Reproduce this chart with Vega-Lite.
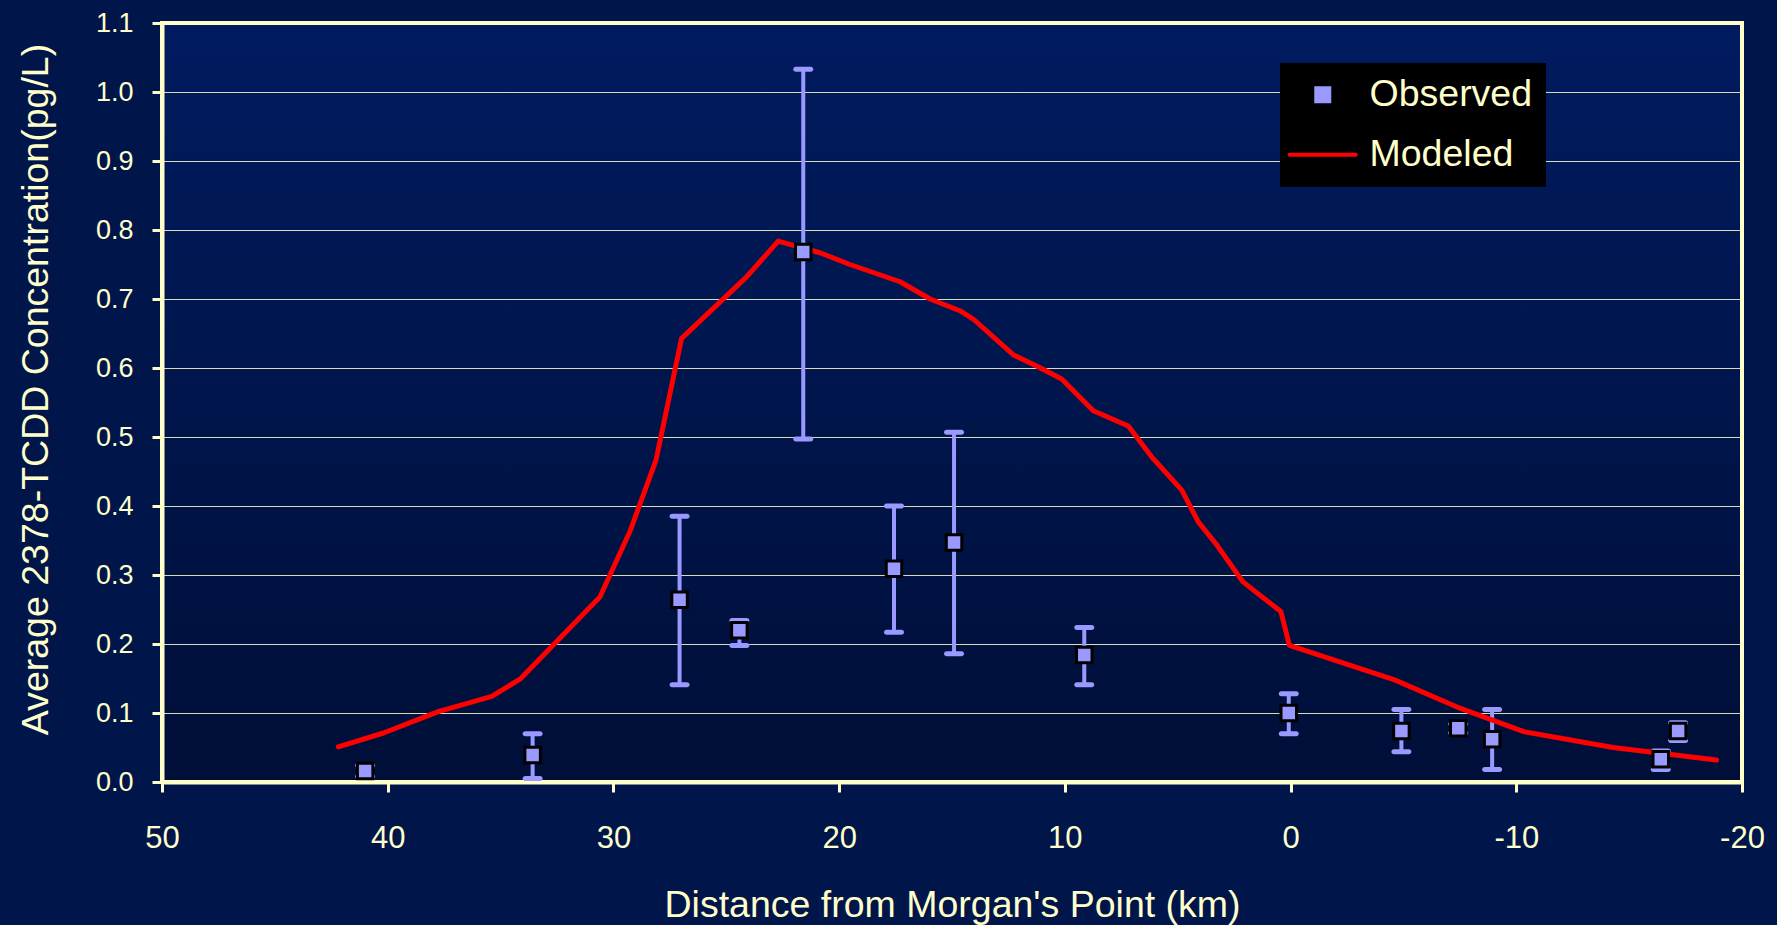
{
  "$schema": "https://vega.github.io/schema/vega-lite/v6.json",
  "width": 1580,
  "height": 759,
  "autosize": {"type": "none"},
  "padding": {"left": 162, "top": 23, "right": 35, "bottom": 143},
  "background": "#00154a",
  "config": {
    "font": "Liberation Sans, Arial, sans-serif",
    "view": {
      "stroke": "#ffffcc",
      "strokeWidth": 4,
      "fill": {"gradient": "linear", "x1": 0, "y1": 0, "x2": 0, "y2": 1,
        "stops": [{"offset": 0, "color": "#001b5f"}, {"offset": 1, "color": "#000f38"}]}
    },
    "axis": {
      "domainColor": "#ffffcc",
      "domainWidth": 4,
      "tickColor": "#ffffcc",
      "tickWidth": 3,
      "tickSize": 10,
      "labelColor": "#ffffcc",
      "titleColor": "#ffffcc",
      "titleFontWeight": "normal",
      "titleFontSize": 37.5,
      "labelFlush": false,
      "labelOverlap": false,
      "gridColor": "#ffffcc",
      "gridWidth": 1,
      "gridOpacity": 0.85
    }
  },
  "datasets": {
    "observed": [
      {"d": 41.0, "c": 0.016, "lo": 0.008, "hi": 0.024, "series": "Observed"},
      {"d": 33.58, "c": 0.039, "lo": 0.005, "hi": 0.070, "series": "Observed"},
      {"d": 27.07, "c": 0.264, "lo": 0.141, "hi": 0.385, "series": "Observed"},
      {"d": 24.42, "c": 0.220, "lo": 0.198, "hi": 0.234, "series": "Observed"},
      {"d": 21.59, "c": 0.768, "lo": 0.497, "hi": 1.033, "series": "Observed"},
      {"d": 17.57, "c": 0.309, "lo": 0.217, "hi": 0.400, "series": "Observed"},
      {"d": 14.91, "c": 0.347, "lo": 0.186, "hi": 0.507, "series": "Observed"},
      {"d": 9.14, "c": 0.184, "lo": 0.141, "hi": 0.224, "series": "Observed"},
      {"d": 0.08, "c": 0.100, "lo": 0.070, "hi": 0.128, "series": "Observed"},
      {"d": -4.91, "c": 0.074, "lo": 0.044, "hi": 0.105, "series": "Observed"},
      {"d": -7.43, "c": 0.078, "lo": 0.071, "hi": 0.084, "series": "Observed"},
      {"d": -8.93, "c": 0.062, "lo": 0.018, "hi": 0.105, "series": "Observed"},
      {"d": -16.40, "c": 0.033, "lo": 0.018, "hi": 0.045, "series": "Observed"},
      {"d": -17.17, "c": 0.074, "lo": 0.060, "hi": 0.086, "series": "Observed"}
    ],
    "modeled": [
      {"d": 42.19, "c": 0.051, "series": "Modeled"},
      {"d": 40.19, "c": 0.071, "series": "Modeled"},
      {"d": 37.76, "c": 0.102, "series": "Modeled"},
      {"d": 35.39, "c": 0.124, "series": "Modeled"},
      {"d": 34.14, "c": 0.149, "series": "Modeled"},
      {"d": 30.60, "c": 0.268, "series": "Modeled"},
      {"d": 29.27, "c": 0.363, "series": "Modeled"},
      {"d": 28.11, "c": 0.467, "series": "Modeled"},
      {"d": 26.98, "c": 0.643, "series": "Modeled"},
      {"d": 24.10, "c": 0.732, "series": "Modeled"},
      {"d": 22.70, "c": 0.784, "series": "Modeled"},
      {"d": 20.85, "c": 0.767, "series": "Modeled"},
      {"d": 19.52, "c": 0.750, "series": "Modeled"},
      {"d": 17.30, "c": 0.725, "series": "Modeled"},
      {"d": 15.97, "c": 0.700, "series": "Modeled"},
      {"d": 14.65, "c": 0.683, "series": "Modeled"},
      {"d": 14.06, "c": 0.671, "series": "Modeled"},
      {"d": 12.28, "c": 0.619, "series": "Modeled"},
      {"d": 11.25, "c": 0.603, "series": "Modeled"},
      {"d": 10.14, "c": 0.584, "series": "Modeled"},
      {"d": 8.74, "c": 0.538, "series": "Modeled"},
      {"d": 7.19, "c": 0.516, "series": "Modeled"},
      {"d": 6.15, "c": 0.471, "series": "Modeled"},
      {"d": 4.82, "c": 0.423, "series": "Modeled"},
      {"d": 4.09, "c": 0.377, "series": "Modeled"},
      {"d": 3.30, "c": 0.345, "series": "Modeled"},
      {"d": 2.11, "c": 0.290, "series": "Modeled"},
      {"d": 0.43, "c": 0.247, "series": "Modeled"},
      {"d": 0.05, "c": 0.198, "series": "Modeled"},
      {"d": -4.61, "c": 0.148, "series": "Modeled"},
      {"d": -7.35, "c": 0.109, "series": "Modeled"},
      {"d": -10.33, "c": 0.073, "series": "Modeled"},
      {"d": -14.29, "c": 0.050, "series": "Modeled"},
      {"d": -18.87, "c": 0.032, "series": "Modeled"}
    ]
  },
  "encoding": {
    "x": {
      "field": "d", "type": "quantitative",
      "scale": {"domain": [-20, 50], "reverse": true, "nice": false, "zero": false},
      "axis": {
        "values": [50, 40, 30, 20, 10, 0, -10, -20],
        "labelExpr": "'' + datum.value",
        "labelFontSize": 31,
        "labelBaseline": "alphabetic",
        "labelPadding": 55,
        "grid": false,
        "title": "Distance from Morgan's Point (km)",
        "titleX": 790,
        "titleY": 134,
        "titleAlign": "center",
        "titleBaseline": "alphabetic"
      }
    },
    "y": {
      "field": "c", "type": "quantitative",
      "scale": {"domain": [0, 1.1], "nice": false, "zero": false},
      "axis": {
        "values": [0, 0.1, 0.2, 0.3, 0.4, 0.5, 0.6, 0.7, 0.8, 0.9, 1.0, 1.1],
        "format": ".1f",
        "labelFontSize": 27,
        "labelPadding": 19,
        "grid": true,
        "title": "Average 2378-TCDD Concentration(pg/L)",
        "titleX": -115,
        "titleY": 366,
        "titleAlign": "center",
        "titleBaseline": "alphabetic"
      }
    }
  },
  "layer": [
    {
      "data": {"name": "observed"},
      "mark": {"type": "rule", "color": "#9999ff", "strokeWidth": 4},
      "encoding": {"y": {"field": "lo", "type": "quantitative"}, "y2": {"field": "hi"}}
    },
    {
      "data": {"name": "observed"},
      "mark": {"type": "tick", "orient": "horizontal", "color": "#9999ff", "size": 20, "thickness": 5, "cornerRadius": 2.5, "opacity": 1},
      "encoding": {"y": {"field": "lo", "type": "quantitative"}}
    },
    {
      "data": {"name": "observed"},
      "mark": {"type": "tick", "orient": "horizontal", "color": "#9999ff", "size": 20, "thickness": 5, "cornerRadius": 2.5, "opacity": 1},
      "encoding": {"y": {"field": "hi", "type": "quantitative"}}
    },
    {
      "data": {"name": "modeled"},
      "mark": {"type": "line", "strokeWidth": 5, "strokeCap": "round", "strokeJoin": "round"},
      "encoding": {
        "color": {"field": "series", "type": "nominal",
          "scale": {"domain": ["Observed", "Modeled"], "range": ["#9999ff", "#ff0000"]},
          "legend": {
            "title": null,
            "orient": "none",
            "legendX": 1118,
            "legendY": 40,
            "fillColor": "#000000",
            "padding": 13,
            "labelFontSize": 37.5,
            "labelColor": "#ffffcc",
            "labelLimit": 0,
            "labelOffset": 28,
            "rowPadding": 21,
            "symbolOffset": 11,
            "encode": {
              "symbols": {
                "update": {
                  "shape": {"signal": "datum.value == 'Observed' ? 'square' : 'M-3.3,0H3.3'"},
                  "size": {"signal": "datum.value == 'Observed' ? 169 : 400"},
                  "fill": {"signal": "datum.value == 'Observed' ? '#9999ff' : 'transparent'"},
                  "stroke": {"signal": "datum.value == 'Observed' ? 'transparent' : '#ff0000'"},
                  "strokeWidth": {"value": 4},
                  "strokeCap": {"value": "round"},
                  "opacity": {"value": 1}
                }
              }
            }
          }
        }
      }
    },
    {
      "data": {"name": "observed"},
      "mark": {"type": "point", "shape": "square", "filled": true, "size": 240, "stroke": "#000000", "strokeWidth": 3, "opacity": 1},
      "encoding": {
        "color": {"field": "series", "type": "nominal"}
      }
    }
  ]
}
